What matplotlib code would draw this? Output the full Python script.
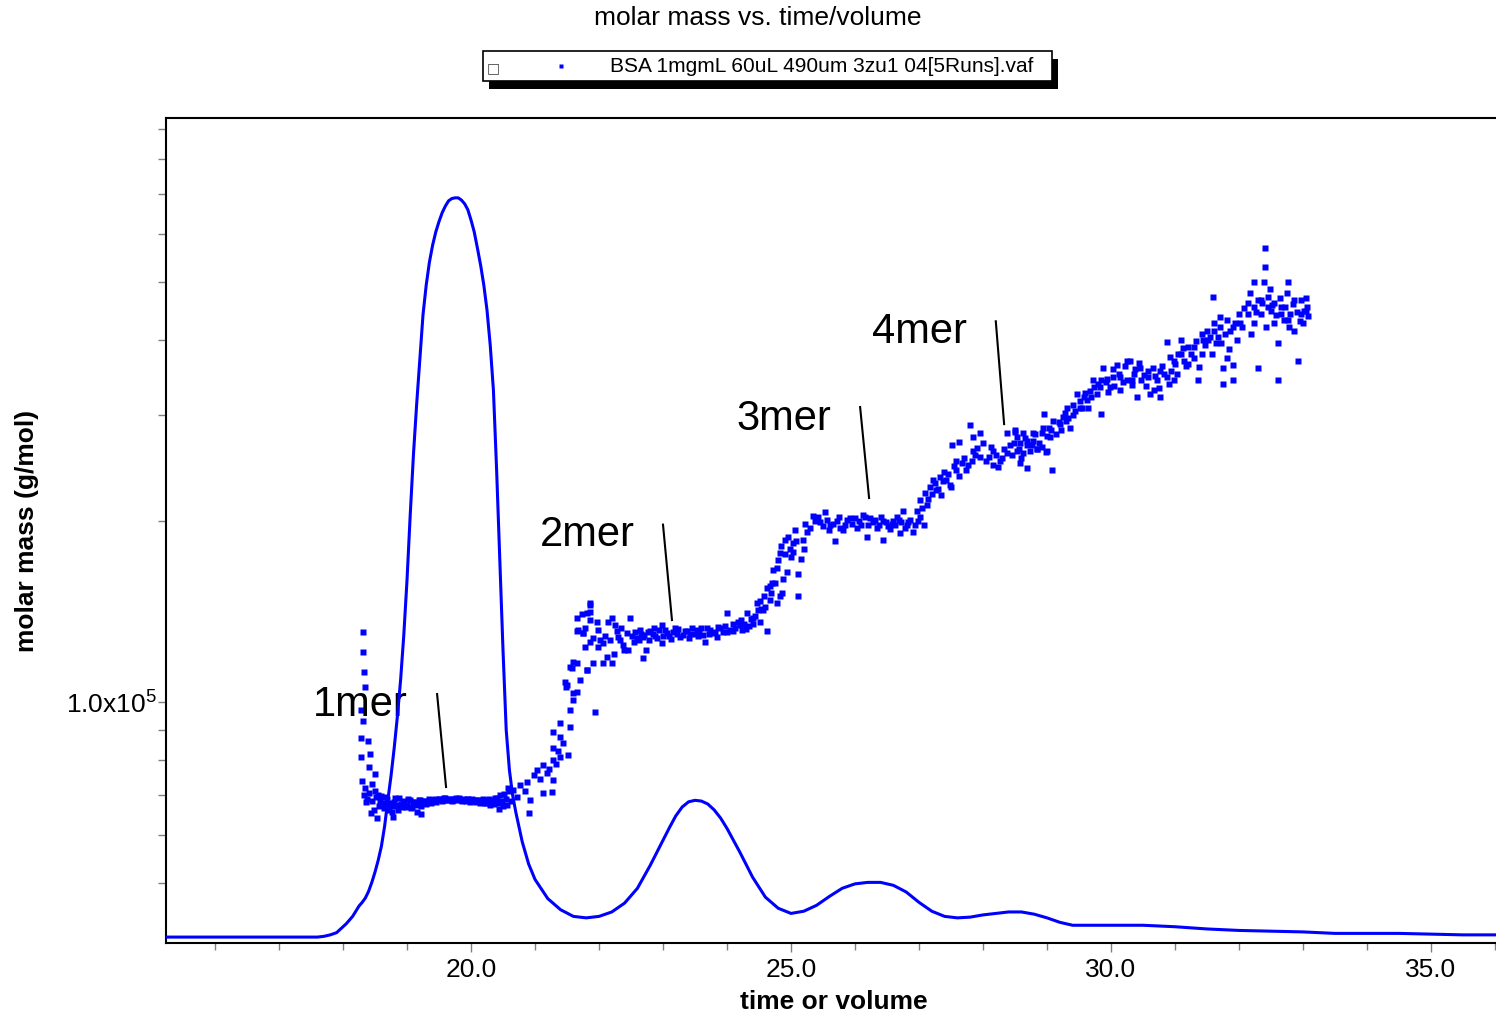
import numpy as np
import matplotlib
matplotlib.use("Agg")
import matplotlib.pyplot as plt
from matplotlib import rcParams
from matplotlib.ticker import FixedLocator, MultipleLocator, FuncFormatter, NullFormatter
from matplotlib.patches import Rectangle
from matplotlib.lines import Line2D

rcParams["font.family"] = ["Liberation Sans", "DejaVu Sans"]
rcParams["mathtext.fontset"] = "custom"
rcParams["mathtext.rm"] = "Liberation Sans"
rcParams["mathtext.it"] = "Liberation Sans:italic"
rcParams["mathtext.bf"] = "Liberation Sans:bold"

# chromatogram trace (time, relative signal)
chrom_time = [15.2, 16.0, 17.0, 17.6, 17.7, 17.8, 17.9, 18.0, 18.05, 18.1, 18.15, 18.2, 18.25,
              18.3, 18.35, 18.4, 18.45, 18.5, 18.55, 18.6, 18.65, 18.7, 18.75, 18.8, 18.85,
              18.9, 18.95, 19.0, 19.05, 19.1, 19.15, 19.2, 19.25, 19.3, 19.35, 19.4, 19.45,
              19.5, 19.55, 19.6, 19.65, 19.7, 19.75, 19.8, 19.85, 19.9, 19.95, 20.0, 20.05,
              20.1, 20.15, 20.2, 20.25, 20.3, 20.35, 20.4, 20.45, 20.5, 20.55, 20.6, 20.65,
              20.7, 20.8, 20.9, 21.0, 21.2, 21.4, 21.6, 21.8, 22.0, 22.2, 22.4, 22.6, 22.8,
              23.0, 23.1, 23.2, 23.3, 23.4, 23.5, 23.6, 23.7, 23.8, 23.9, 24.0, 24.2, 24.4,
              24.6, 24.8, 25.0, 25.2, 25.4, 25.6, 25.8, 26.0, 26.2, 26.4, 26.6, 26.8, 27.0,
              27.2, 27.4, 27.6, 27.8, 28.0, 28.2, 28.4, 28.6, 28.8, 29.0, 29.2, 29.4, 29.6,
              30.0, 30.5, 31.0, 31.5, 32.0, 32.5, 33.0, 33.5, 34.0, 34.5, 35.0, 35.5, 36.1]
chrom_signal = [0.0, 0.0, 0.0, 0.0, 0.001, 0.003, 0.006, 0.014, 0.018, 0.023, 0.028, 0.035, 0.042,
                0.047, 0.053, 0.062, 0.074, 0.088, 0.104, 0.123, 0.150, 0.185, 0.218, 0.256, 0.299,
                0.348, 0.409, 0.483, 0.571, 0.652, 0.720, 0.781, 0.842, 0.882, 0.913, 0.936, 0.954,
                0.968, 0.980, 0.989, 0.996, 0.999, 1.000, 1.000, 0.997, 0.992, 0.984, 0.970, 0.954,
                0.932, 0.909, 0.882, 0.848, 0.801, 0.740, 0.632, 0.510, 0.388, 0.280, 0.226, 0.192,
                0.169, 0.129, 0.099, 0.078, 0.052, 0.037, 0.028, 0.026, 0.028, 0.034, 0.046, 0.066, 0.097,
                0.131, 0.148, 0.164, 0.176, 0.183, 0.185, 0.184, 0.180, 0.172, 0.161, 0.147, 0.115, 0.081,
                0.054, 0.039, 0.032, 0.035, 0.043, 0.055, 0.066, 0.072, 0.074, 0.074, 0.070, 0.061, 0.047,
                0.035, 0.028, 0.026, 0.027, 0.030, 0.032, 0.034, 0.034, 0.031, 0.026, 0.020, 0.016, 0.016,
                0.016, 0.016, 0.014, 0.011, 0.009, 0.008, 0.007, 0.005, 0.005, 0.005, 0.004, 0.003, 0.003]

# molar mass points (time, kDa)
onset_pts = [(18.31, 131), (18.31, 121), (18.33, 112), (18.34, 106), (18.28, 97), (18.31, 93),
             (18.28, 87), (18.39, 86), (18.42, 82), (18.28, 81), (18.40, 78), (18.50, 76),
             (18.30, 74), (18.45, 73), (18.35, 72), (18.40, 70.5), (18.33, 70), (18.38, 69),
             (18.45, 68.5), (18.50, 71), (18.55, 70), (18.48, 66), (18.60, 67.5), (18.43, 65.3),
             (18.36, 68.2), (18.52, 69.5), (18.53, 64.1), (18.78, 64.3), (19.22, 65.0)]
mer1_pts = [(18.56, 67.2), (18.60, 69.8), (18.64, 66.5), (18.68, 68.9), (18.72, 67.0), (18.76, 65.6),
            (18.80, 68.2), (18.84, 67.4), (18.88, 69.1), (18.92, 66.8), (18.96, 68.0), (19.00, 67.5),
            (19.04, 68.6), (19.08, 66.9), (19.12, 68.3), (19.16, 65.5), (19.20, 68.7), (19.24, 67.9),
            (19.28, 68.5), (19.32, 68.2), (19.36, 68.8), (19.40, 68.4), (19.44, 68.9), (19.48, 68.6),
            (19.52, 69.0), (19.56, 68.7), (19.60, 69.1), (19.64, 68.8), (19.68, 69.0), (19.72, 68.6),
            (19.76, 69.1), (19.80, 68.9), (19.84, 68.7), (19.88, 69.0), (19.92, 68.5), (19.96, 68.9),
            (20.00, 68.6), (20.04, 68.8), (20.08, 68.3), (20.12, 68.7), (20.16, 68.2), (20.20, 68.6),
            (20.24, 67.8), (20.28, 68.9), (20.32, 68.1), (20.36, 67.6), (20.40, 69.2), (20.44, 66.4),
            (20.48, 68.5), (20.52, 70.2), (20.56, 67.3), (20.60, 71.0),
            (18.58, 68.4), (18.62, 67.8), (18.66, 69.5), (18.70, 66.2), (18.74, 68.0), (18.78, 67.1),
            (18.82, 69.3), (18.86, 66.0), (18.90, 67.7), (18.94, 68.5), (18.98, 67.0), (19.02, 68.9),
            (19.06, 66.6), (19.10, 68.1), (19.14, 67.4), (19.18, 68.8), (19.22, 67.2), (19.26, 68.4),
            (19.30, 67.7), (19.34, 68.9), (19.38, 68.0), (19.42, 68.6), (19.46, 68.3), (19.50, 68.9),
            (19.54, 68.5), (19.58, 69.2), (19.62, 68.7), (19.66, 68.9), (19.70, 68.4), (19.74, 69.0),
            (19.78, 68.8), (19.82, 69.2), (19.86, 68.5), (19.90, 68.8), (19.94, 68.9), (19.98, 68.3),
            (20.02, 68.9), (20.06, 68.4), (20.10, 68.7), (20.14, 68.0), (20.18, 68.9), (20.22, 67.9),
            (20.26, 68.4), (20.30, 67.5), (20.34, 68.6), (20.38, 69.3), (20.42, 67.9), (20.46, 70.1),
            (20.50, 67.2), (20.54, 69.0), (20.58, 72.0), (20.62, 68.4)]
rise1_pts = [(20.66, 71.4), (20.77, 72.8), (20.88, 73.7), (21.03, 77.1), (21.13, 78.6), (21.19, 76.2),
             (21.28, 74.2), (21.13, 70.6), (20.91, 65.3), (21.28, 80.1), (21.39, 81.0), (21.28, 84.0),
             (21.39, 87.4), (21.55, 90.9), (21.28, 89.1), (21.39, 92.3), (21.55, 97.0), (21.59, 100.8),
             (21.50, 106.7), (21.59, 103.5), (21.70, 108.8), (21.55, 114.4), (21.81, 113.0), (21.59, 116.6),
             (21.75, 130.3), (21.86, 137), (21.81, 140.6), (21.86, 145), (21.94, 96.3), (21.52, 81.6),
             (21.27, 70.9), (20.92, 68.7), (21.58, 114), (21.66, 116), (21.47, 108), (21.48, 106),
             (21.66, 104), (20.72, 69.5), (20.84, 71.0), (20.98, 75.5), (21.08, 74.5), (21.22, 77.5),
             (21.33, 79.0), (21.44, 85.5), (21.36, 83.0)]
mer2_pts = [(21.86, 146), (21.86, 141), (21.73, 140), (21.66, 138), (21.66, 131.5), (21.78, 133),
            (21.75, 130.3), (21.97, 136), (21.98, 132), (22.14, 136), (22.20, 138), (22.25, 134.5),
            (22.48, 138), (21.86, 126), (21.91, 128), (22.02, 127), (21.98, 123.5), (22.06, 125.6),
            (22.17, 127), (22.28, 131.5), (22.33, 127), (22.44, 130.5), (22.38, 124.5), (22.45, 122),
            (22.59, 128), (22.69, 128.5), (22.80, 131.5), (22.91, 128), (22.98, 125.5), (23.03, 132),
            (23.19, 133), (23.27, 128.5), (23.38, 131.5), (23.53, 132), (23.69, 133), (23.78, 130.5),
            (23.89, 133), (24.00, 140.6), (24.09, 131.5), (24.20, 134.5), (24.31, 140.6), (24.41, 138),
            (24.47, 146), (24.56, 142), (24.63, 131.5), (22.73, 122), (22.69, 118.5), (22.39, 122),
            (22.23, 120), (22.13, 119), (22.06, 116), (22.20, 116), (21.91, 116), (21.78, 123.5),
            (21.67, 132), (21.81, 113), (23.66, 126), (22.98, 134.5),
            (22.52, 129), (22.57, 131), (22.62, 127), (22.66, 130), (22.71, 129.5), (22.76, 131),
            (22.84, 130), (22.88, 129), (22.94, 132), (23.06, 130.5), (23.10, 129), (23.15, 131),
            (23.22, 130), (23.31, 129.5), (23.35, 131.5), (23.42, 130), (23.46, 133), (23.50, 130),
            (23.57, 131), (23.62, 129.5), (23.74, 132), (23.82, 131), (23.86, 133.5), (23.93, 131),
            (23.97, 134), (24.04, 132), (24.13, 133), (24.17, 136), (24.24, 132), (24.27, 135),
            (24.35, 134), (24.38, 137.5), (24.44, 139), (24.51, 136), (24.53, 143),
            (22.10, 129), (22.30, 128.5), (22.35, 133), (22.55, 126), (22.64, 132), (22.78, 127),
            (22.86, 133), (23.00, 129), (23.13, 127.5), (23.24, 132.5), (23.40, 128), (23.55, 129),
            (23.60, 133), (23.72, 130), (23.85, 128.5), (24.00, 131), (24.10, 135), (24.22, 137),
            (24.30, 132.5), (24.40, 135)]
rise2_pts = [(24.67, 148), (24.78, 146), (24.75, 158), (24.88, 160), (24.94, 164.5), (25.11, 163),
             (25.11, 150), (24.86, 152), (24.78, 167), (24.58, 150), (24.62, 155), (24.70, 158),
             (24.72, 166), (24.80, 172), (24.85, 182), (24.90, 176), (24.96, 188), (25.00, 174),
             (25.06, 193), (25.08, 185), (24.91, 186), (24.98, 180), (24.83, 150), (24.67, 156),
             (24.60, 144), (24.69, 152), (24.52, 147), (24.49, 142), (24.83, 177), (25.03, 178),
             (25.03, 184), (25.19, 186), (25.20, 180), (25.15, 173), (25.22, 198)]
mer3_pts = [(25.30, 195), (25.38, 200), (25.53, 207), (25.61, 197), (25.69, 185), (25.77, 195),
            (25.92, 202), (26.03, 195), (26.13, 205), (26.23, 202), (26.19, 188), (26.34, 195),
            (26.44, 200), (26.44, 186), (26.55, 194), (26.66, 203), (26.70, 191), (26.75, 208),
            (26.81, 197), (26.91, 192), (26.97, 208), (27.02, 203), (27.08, 197),
            (25.45, 199), (25.50, 196), (25.57, 201), (25.65, 198), (25.72, 200), (25.84, 197),
            (25.88, 201), (25.96, 198), (26.06, 200), (26.10, 197), (26.28, 199), (26.31, 201),
            (26.38, 197), (26.49, 199), (26.52, 196), (26.60, 200), (26.63, 197), (26.72, 199),
            (26.86, 201), (26.94, 197), (25.25, 192), (25.42, 203), (25.81, 193), (26.16, 203),
            (26.78, 195), (25.35, 204), (25.60, 193), (25.75, 203), (26.00, 202), (26.20, 197),
            (26.40, 203), (26.58, 198), (26.68, 201), (26.83, 199), (26.98, 200)]
rise3_pts = [(27.02, 217), (27.14, 218), (27.09, 223), (27.17, 228), (27.22, 234), (27.33, 237),
             (27.27, 225), (27.34, 221), (27.39, 241), (27.42, 234), (27.50, 228), (27.58, 243),
             (27.58, 252), (27.73, 243), (27.67, 250), (27.83, 252), (27.84, 262), (27.91, 265),
             (27.95, 256), (27.52, 268), (27.63, 271), (27.84, 276), (27.95, 280), (27.80, 289),
             (27.05, 210), (27.12, 213), (27.20, 222), (27.25, 231), (27.30, 226), (27.37, 233),
             (27.45, 240), (27.48, 230), (27.55, 247), (27.62, 238), (27.70, 255), (27.76, 248),
             (27.88, 258)]
mer4_pts = [(28.00, 270), (28.05, 252), (28.16, 262), (28.16, 248), (28.23, 246), (28.27, 252),
            (28.38, 260), (28.42, 268), (28.53, 262), (28.58, 250), (28.69, 268), (28.69, 245),
            (28.78, 272), (28.84, 264), (28.92, 280), (28.98, 261), (29.03, 286), (29.08, 243),
            (28.95, 302), (28.38, 280), (28.50, 283), (28.63, 280), (28.53, 276), (28.69, 272),
            (28.78, 280), (28.94, 286), (29.10, 294), (29.25, 298), (29.31, 309), (29.36, 286),
            (28.10, 256), (28.12, 266), (28.20, 258), (28.30, 255), (28.33, 264), (28.46, 258),
            (28.48, 270), (28.56, 264), (28.60, 255), (28.66, 275), (28.73, 262), (28.76, 268),
            (28.82, 279), (28.88, 270), (28.92, 266), (29.00, 277), (29.06, 283), (29.14, 279),
            (29.18, 292), (29.22, 284), (29.28, 303), (29.33, 297), (29.40, 312), (29.44, 305),
            (29.52, 317), (29.55, 308), (29.62, 318), (29.67, 329), (29.78, 326), (29.80, 338),
            (29.92, 341), (29.95, 328),
            (28.50, 281), (28.58, 270), (28.63, 260), (28.84, 264), (29.00, 262), (29.05, 276),
            (29.20, 290), (29.30, 294), (29.40, 300), (29.52, 309), (29.59, 327), (29.72, 343),
            (29.83, 334), (29.94, 345)]
tail_pts = [(29.47, 326), (29.58, 322), (29.64, 309), (29.73, 334), (29.69, 322), (29.84, 343),
            (29.88, 360), (29.84, 302), (29.98, 334), (30.03, 347), (30.09, 364), (30.14, 330),
            (30.25, 343), (30.30, 370), (30.36, 351), (30.41, 322), (30.47, 343), (30.58, 356),
            (30.61, 326), (30.72, 343), (30.77, 322), (30.83, 351), (30.94, 356), (30.98, 343),
            (30.88, 397), (31.09, 400), (31.05, 380), (31.14, 370), (31.20, 390), (31.30, 374),
            (31.36, 343), (31.42, 380), (31.44, 400), (31.50, 415), (31.61, 427), (31.67, 405),
            (31.70, 420), (31.75, 360), (31.81, 374), (31.86, 415), (31.91, 343), (32.00, 442),
            (32.14, 461), (32.17, 480), (32.23, 427), (32.30, 466), (32.34, 442), (32.45, 472),
            (32.50, 448), (32.55, 427), (32.61, 396), (32.66, 454), (32.70, 432), (32.75, 480),
            (32.80, 442), (32.86, 415), (32.92, 370), (32.97, 466), (33.00, 427), (33.06, 454),
            (32.61, 343), (32.30, 360), (31.91, 364), (31.70, 437), (31.59, 472), (32.41, 570),
            (32.41, 530), (32.23, 500), (32.39, 500), (32.77, 500), (31.75, 338),
            (30.05, 335), (30.12, 352), (30.19, 341), (30.22, 362), (30.33, 337), (30.38, 358),
            (30.44, 366), (30.52, 350), (30.55, 336), (30.65, 360), (30.69, 349), (30.75, 333),
            (30.80, 362), (30.90, 338), (30.92, 375), (31.00, 365), (31.03, 352), (31.12, 388),
            (31.17, 362), (31.25, 380), (31.33, 398), (31.38, 361), (31.47, 392), (31.55, 405),
            (31.58, 380), (31.64, 395), (31.78, 410), (31.84, 386), (31.94, 428), (31.97, 400),
            (32.05, 420), (32.08, 452), (32.19, 410), (32.26, 445), (32.36, 462), (32.42, 420),
            (32.48, 486), (32.52, 458), (32.58, 440), (32.64, 470), (32.72, 455), (32.78, 420),
            (32.84, 460), (32.90, 445), (32.95, 430), (33.02, 448), (33.04, 470), (33.08, 438),
            (30.03, 358), (30.14, 347), (30.25, 370), (30.33, 343), (30.45, 360), (30.58, 347),
            (30.67, 330), (30.77, 356), (30.88, 347), (30.98, 370), (31.09, 380), (31.20, 365),
            (31.30, 390), (31.42, 410), (31.52, 400), (31.61, 415), (31.72, 396), (31.81, 432),
            (31.91, 420), (32.02, 427), (32.14, 442), (32.23, 454), (32.34, 466), (32.45, 454),
            (32.55, 461), (32.66, 442), (32.77, 432), (32.86, 466), (32.97, 442), (33.05, 448)]

# annotations: label, text anchor (time, kDa), line start, line end
ann_labels = ["1mer", "2mer", "3mer", "4mer"]
ann_text_pos = [(17.53, 94.8), (21.08, 181.8), (24.14, 283.5), (26.27, 396)]
ann_line_start = [(19.47, 103.1), (23.00, 197.3), (26.08, 309.6), (28.20, 430)]
ann_line_end = [(19.61, 72.2), (23.14, 136.9), (26.22, 218.5), (28.33, 290)]

legend_label = "BSA 1mgmL 60uL 490um 3zu1 04[5Runs].vaf"
blue = "#0000ff"
W, H = 1496, 1014

fig = plt.figure(figsize=(W / 100, H / 100), dpi=100)
ax = fig.add_axes([166 / W, 71 / H, 1330 / W, 825 / H])

pts = np.array(onset_pts + mer1_pts + rise1_pts + mer2_pts + rise2_pts + mer3_pts
               + rise3_pts + mer4_pts + tail_pts)
ax.plot(pts[:, 0], pts[:, 1] * 1000, ls="none", marker="s", ms=4.6, mec="none", mfc=blue)

ax.set_yscale("log")
ax.set_xlim(15.234, 36.016)
ax.set_ylim(39720, 937000)
ax.xaxis.set_major_locator(MultipleLocator(5))
ax.xaxis.set_minor_locator(MultipleLocator(1))
ax.xaxis.set_major_formatter(FuncFormatter(lambda v, p: f"{v:.1f}"))
ax.yaxis.set_major_locator(FixedLocator([1e5]))
ax.yaxis.set_major_formatter(FuncFormatter(lambda v, p: r"1.0x10$^{5}$"))
ax.yaxis.set_minor_locator(FixedLocator([5e4, 6e4, 7e4, 8e4, 9e4, 2e5, 3e5, 4e5, 5e5,
                                         6e5, 7e5, 8e5, 9e5]))
ax.yaxis.set_minor_formatter(NullFormatter())

ax.tick_params(axis="both", which="both", direction="out", colors="#808080",
               labelcolor="black", labelsize=19, width=1.0)
ax.tick_params(axis="x", which="major", length=6.5, pad=4)
ax.tick_params(axis="x", which="minor", length=4.7)
ax.tick_params(axis="y", which="both", length=5.8, pad=1)

for side in ["left", "top", "bottom"]:
    ax.spines[side].set_linewidth(1.5)
    ax.spines[side].set_color("black")
ax.spines["right"].set_visible(False)

ax.set_xlabel("time or volume", fontsize=19, fontweight="bold")
ax.xaxis.set_label_coords(0.5023, -0.057)
ax.set_ylabel("molar mass (g/mol)", fontsize=19, fontweight="bold")
ax.yaxis.set_label_coords(-0.0955, 0.5)

for lab, tp, ls, le in zip(ann_labels, ann_text_pos, ann_line_start, ann_line_end):
    ax.text(tp[0], tp[1] * 1000, lab, fontsize=30, ha="left", va="baseline")
    ax.plot([ls[0], le[0]], [ls[1] * 1000, le[1] * 1000], color="black", lw=1.5)

ax2 = ax.twinx()
ax2.plot(chrom_time, chrom_signal, color=blue, lw=2.2)
ax2.set_ylim(-0.008, 1.108)
ax2.set_axis_off()

# title and legend box
fig.text(758 / W, 1 - 18 / H, "molar mass vs. time/volume", fontsize=19,
         ha="center", va="center")
fig.add_artist(Rectangle((489 / W, 1 - 89 / H), 569 / W, 30 / H, transform=fig.transFigure,
                         facecolor="black", edgecolor="none"))
fig.add_artist(Rectangle((483 / W, 1 - 81 / H), 569 / W, 30 / H, transform=fig.transFigure,
                         facecolor="white", edgecolor="black", lw=1.2))
fig.text(487 / W, 1 - 68 / H, "\u25a1", fontsize=10, family="DejaVu Sans",
         ha="left", va="center", color="#444444")
fig.add_artist(Line2D([561 / W], [1 - 66 / H], transform=fig.transFigure, ls="none",
                      marker="s", ms=3.5, mec="none", mfc=blue))
fig.text(610 / W, 1 - 66 / H, legend_label, fontsize=15, ha="left", va="center")

fig.savefig("out.png", dpi=100)
